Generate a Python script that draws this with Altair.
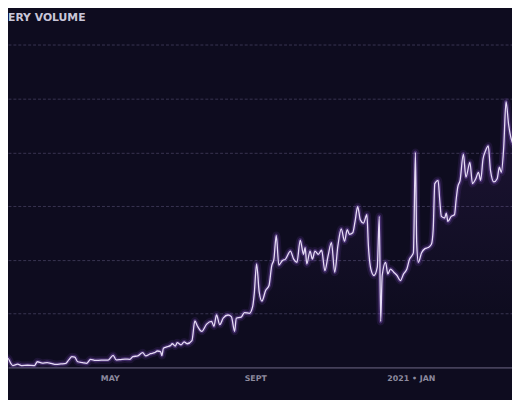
import altair as alt
import pandas as pd

# Days relative to 2020-05-01 and delivery volume (arbitrary units, gridline step = 20)
day_offset = [
    -86, -84.2, -82.5, -79.1, -76.6, -74.9, -70.7, -67.4, -62.3, -56.4,
    -53.9, -49.7, -45.5, -42.1, -37.9, -33.7, -29.5, -26.9, -24.4, -21.9,
    -19.4, -15.2, -11.8, -8.4, -4.2, 0.8, 6.7, 10.9, 13.5, 16.8,
    21.0, 25.3, 27.8, 32.0, 36.2, 38.7, 42.9, 46.3, 48.8, 51.4,
    52.6, 53.9, 57.2, 59.8, 61.5, 64.0, 65.7, 69.0, 71.6, 74.1,
    78.3, 80.8, 83.1, 86.7, 90.9, 95.1, 97.1, 99.3, 102.1, 105.0,
    109.2, 112.0, 114.8, 116.2, 120.4, 123.2, 127.4, 130.2, 131.6, 133.6,
    135.8, 138.1, 141.4, 144.2, 146.5, 148.4, 150.4, 152.6, 155.5, 158.3,
    162.5, 165.3, 168.1, 170.9, 173.7, 175.1, 176.5, 179.3, 181.3, 183.5,
    186.3, 189.2, 192.0, 194.7, 197.6, 200.4, 203.1, 206.0, 208.8, 211.1,
    213.0, 215.8, 217.8, 220.0, 222.3, 225.0, 227.9, 229.2, 231.3, 234.0,
    236.8, 238.5, 239.7, 241.0, 243.9, 245.8, 248.1, 250.9, 253.7, 256.5,
    259.3, 262.1, 264.4, 266.3, 267.7, 269.4, 270.5, 271.9, 274.7, 277.6,
    280.3, 283.1, 284.6, 286.0, 288.8, 290.2, 291.6, 294.4, 295.8, 297.2,
    300.0, 302.8, 304.2, 305.6, 307.6, 310.4, 312.6, 316.0, 318.2, 321.0,
    323.3, 325.2, 327.2, 329.4, 331.7, 333.6, 336.5, 339.3, 341.2, 342.9,
    344.9, 346.9, 349.1, 351.9, 354.4,
]
volume = [
    1.1, 2.2, 1.1, 3.4, 1.5, 0.7, 1.2, 0.7, 0.8, 0.7,
    2.1, 1.6, 1.8, 1.5, 1.1, 1.3, 1.5, 2.9, 4.0, 3.8,
    2.1, 1.8, 1.5, 3.0, 2.6, 2.7, 2.7, 4.5, 2.8, 2.9,
    3.1, 3.0, 4.0, 4.3, 5.5, 4.3, 5.1, 5.5, 6.1, 5.9,
    4.4, 7.1, 7.7, 8.1, 8.8, 7.9, 9.2, 8.4, 9.5, 8.8,
    10.0, 17.3, 15.3, 13.4, 16.1, 17.1, 15.3, 19.5, 15.9, 18.3,
    19.5, 18.9, 13.4, 18.3, 18.7, 20.4, 20.1, 22.6, 27.5, 38.5,
    28.1, 24.7, 28.7, 30.5, 37.8, 40.3, 49.1, 38.1, 39.7, 40.3,
    43.3, 40.3, 39.1, 47.4, 42.1, 44.6, 38.5, 43.3, 40.3, 43.3,
    42.1, 43.6, 36.0, 41.5, 46.4, 35.4, 45.2, 51.5, 47.0, 51.3,
    49.5, 50.1, 54.3, 59.8, 54.9, 53.7, 56.8, 45.2, 36.6, 34.2,
    37.3, 56.2, 17.1, 34.2, 39.1, 34.8, 36.6, 35.4, 34.2, 32.3,
    34.8, 36.6, 40.3, 41.5, 42.7, 80.0, 46.4, 39.1, 42.7, 44.2,
    44.6, 45.8, 51.3, 68.4, 69.6, 62.3, 56.2, 55.6, 57.4, 54.3,
    56.2, 56.8, 62.3, 67.1, 69.6, 79.4, 70.8, 76.3, 68.4, 70.2,
    72.6, 69.6, 77.5, 80.6, 82.4, 73.3, 69.0, 70.2, 74.5, 72.6,
    81.8, 98.9, 90.4, 84.2, 82.4,
]
grid_values = [20, 40, 60, 80, 100, 120]
title_text = ["ERY VOLUME"]

BG = "#0e0c1f"
start = pd.Timestamp("2020-05-01")
df = pd.DataFrame({
    "date": start + pd.to_timedelta(day_offset, unit="D"),
    "volume": volume,
})

x_scale = alt.Scale(domain=[alt.DateTime(year=2020, month=2, date=12),
                            alt.DateTime(year=2021, month=4, date=18)])
y_scale = alt.Scale(domain=[0, 132.6], nice=False, zero=True)

x_enc = alt.X(
    "date:T", scale=x_scale, title=None,
    axis=alt.Axis(
        values=[alt.DateTime(year=2020, month=5, date=1),
                alt.DateTime(year=2020, month=9, date=1),
                alt.DateTime(year=2021, month=1, date=1)],
        labelExpr="month(datum.value) == 4 ? 'MAY' : (month(datum.value) == 8 ? 'SEPT' : '2021 • JAN')",
        labelAlign="left", labelBaseline="middle", labelPadding=11,
        labelColor="#8d8a9e", labelFont="DejaVu Sans", labelFontWeight="bold",
        labelFontSize=8, ticks=False, grid=False,
        domain=True, domainColor="#45405a", domainWidth=1.6,
    ),
)
y_enc = alt.Y(
    "volume:Q", scale=y_scale, title=None,
    axis=alt.Axis(values=grid_values, labels=False, ticks=False, domain=False,
                  grid=True, gridColor="#3a3552", gridDash=[3, 2], gridWidth=1),
)

base = alt.Chart(df)

area = base.mark_area(
    clip=True, interpolate="monotone",
    color=alt.Gradient(
        gradient="linear", x1=0, x2=0, y1=0, y2=1,
        stops=[alt.GradientStop(color="rgba(140,80,210,0.12)", offset=0),
               alt.GradientStop(color="rgba(140,80,210,0.0)", offset=0.8)],
    ),
).encode(x=x_enc, y=y_enc)

glow1 = base.mark_line(clip=True, interpolate="monotone", color="#8b4fd6",
                       strokeWidth=8, opacity=0.12, strokeJoin="round").encode(x=x_enc, y=y_enc)
glow2 = base.mark_line(clip=True, interpolate="monotone", color="#a06ae8",
                       strokeWidth=4, opacity=0.3, strokeJoin="round").encode(x=x_enc, y=y_enc)
line = base.mark_line(clip=True, interpolate="monotone", color="#e6dcf5",
                      strokeWidth=1.3, strokeJoin="round").encode(x=x_enc, y=y_enc)

title = alt.Chart(pd.DataFrame({"t": title_text})).mark_text(
    align="left", baseline="middle", font="DejaVu Sans", fontWeight="bold",
    fontSize=11, color="#c9c6d8",
).encode(x=alt.value(0), y=alt.value(7), text="t:N")

chart = alt.layer(area, glow1, glow2, line, title).properties(
    width=512, height=362,
    autosize=alt.AutoSizeParams(type="none"),
    padding={"left": 0, "top": 0, "right": 0, "bottom": 30},
    background=BG,
).configure_view(stroke=None)

chart.save("out.html", embed_options={"renderer": "svg", "actions": False})
